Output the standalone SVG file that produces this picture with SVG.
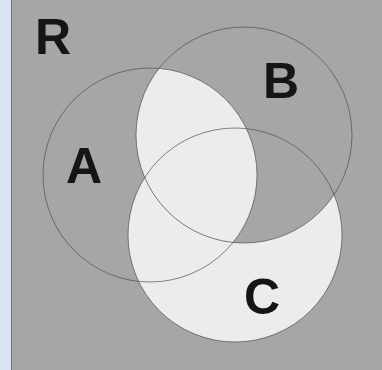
<svg xmlns="http://www.w3.org/2000/svg" width="382" height="370" viewBox="0 0 382 370">
  <style>
    .bg { fill: #a6a6a6; }
    .white { fill: #ececec; }
    .outline { fill: none; stroke: #4a4a4a; stroke-width: 0.9; stroke-opacity: 0.75; }
    .label { font-family: "Liberation Sans", Arial, sans-serif; font-weight: bold; font-size: 50px; fill: #151515; text-anchor: middle; }
  </style>
  <defs>
    <clipPath id="clipB">
      <circle cx="244" cy="135" r="108"/>
    </clipPath>
  </defs>
  <rect x="0" y="0" width="382" height="370" class="bg"/>
  <rect x="0" y="0" width="11" height="370" fill="#d8e5f1"/>
  <line x1="11.5" y1="0" x2="11.5" y2="370" stroke="#6b7784" stroke-width="1"/>
  <g id="regions">
    <circle cx="235" cy="235" r="107" class="white"/>
    <circle cx="244" cy="135" r="108" class="bg"/>
    <circle cx="150" cy="175" r="107" class="white" clip-path="url(#clipB)"/>
  </g>
  <g id="A">
    <circle cx="150" cy="175" r="107" class="outline"/>
    <text x="84" y="183" class="label">A</text>
  </g>
  <g id="B">
    <circle cx="244" cy="135" r="108" class="outline"/>
    <text x="281" y="98" class="label">B</text>
  </g>
  <g id="C">
    <circle cx="235" cy="235" r="107" class="outline"/>
    <text x="262" y="314" class="label">C</text>
  </g>
  <g id="R">
    <text x="53" y="54" class="label">R</text>
  </g>
  <g id="connectors"/>
</svg>
